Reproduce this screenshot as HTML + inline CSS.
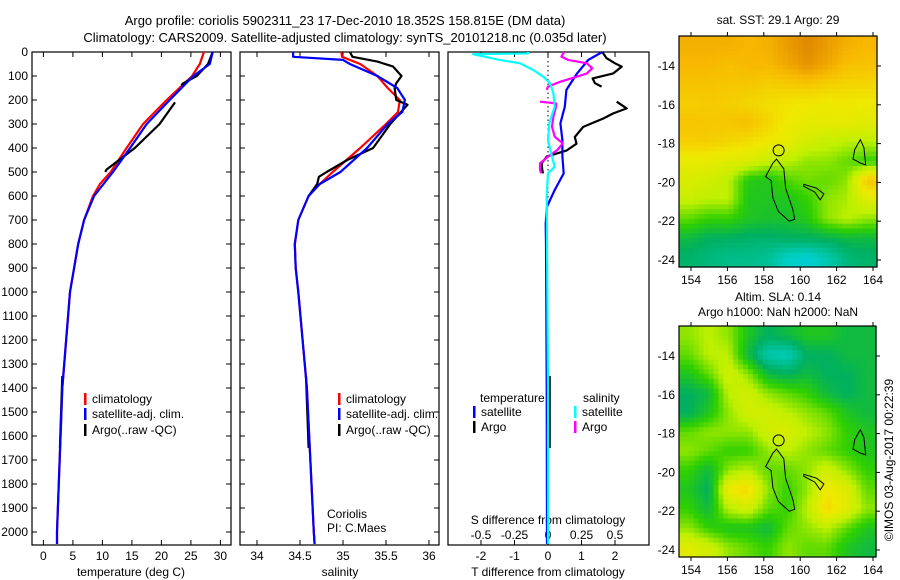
<!DOCTYPE html>
<html><head><meta charset="utf-8">
<style>
html,body{margin:0;padding:0;background:#fff;}
svg{display:block;font-family:"Liberation Sans",sans-serif;}
text{fill:#000;}
</style></head>
<body>
<svg id="fig" width="900" height="580" viewBox="0 0 900 580" xmlns="http://www.w3.org/2000/svg">
<text x="345" y="25" font-size="13" text-anchor="middle">Argo profile: coriolis 5902311_23 17-Dec-2010 18.352S 158.815E (DM data)</text>
<text x="345" y="42" font-size="13" text-anchor="middle">Climatology: CARS2009. Satellite-adjusted climatology: synTS_20101218.nc (0.035d later)</text>
<g id="p1"></g>
<g id="p2"></g>
<g id="p3"></g>
<g id="m1"></g>
<g id="m2"></g>
<text x="778" y="24" font-size="12" text-anchor="middle">sat. SST: 29.1 Argo: 29</text>
<text x="778" y="301" font-size="12" text-anchor="middle">Altim. SLA: 0.14</text>
<text x="778" y="316" font-size="12" text-anchor="middle">Argo h1000: NaN h2000: NaN</text>
<text x="0" y="0" font-size="12" transform="translate(893,460) rotate(-90)" text-anchor="middle">©IMOS 03-Aug-2017 00:22:39</text>
</svg>
<script>
// ---- data ----
const depthTicks=[0,100,200,300,400,500,600,700,800,900,1000,1100,1200,1300,1400,1500,1600,1700,1800,1900,2000];
const tempTicks=[0,5,10,15,20,25,30];
const salTicks=[34,34.5,35,35.5,36];
const tdiffTicks=[-2,-1,0,1,2];
const sdiffTicks=[-0.5,-0.25,0,0.25,0.5];
const sdiffLabels=["-0.5","-0.25","0","0.25","0.5"];
const clDepth=[0,50,100,200,300,400,500,550,600,700,800,900,1000,1400,2000,2050];
const tempClim=[27.2,26.5,25.2,20.9,16.9,14.1,11.4,9.6,8.4,6.9,5.9,5.2,4.5,3.2,2.3,2.3];
const saDepth=[0,50,100,200,300,400,500,600,700,800,900,1000,1400,2000,2050];
const tempSat=[28.7,28.2,25.4,21.4,17.5,14.7,11.8,8.6,6.9,5.9,5.2,4.5,3.2,2.3,2.3];
const arDepth=[0,50,100,132,140,null,210,300,400,490,500,null,1350,1650];
const tempArgo=[28.7,27.9,26.0,23.6,23.4,null,22.3,19.7,15.5,10.7,10.5,null,3.2,2.8];
const salDepthC=[0,20,50,100,150,200,250,300,400,500,550,600,700,800,900,1000,1400,2000,2050];
const salClim=[34.98,34.99,35.2,35.4,35.52,35.66,35.64,35.5,35.2,34.88,34.73,34.6,34.48,34.44,34.45,34.48,34.58,34.66,34.67];
const salDepthS=[0,20,33,50,100,150,200,250,300,400,500,550,600,700,800,900,1000,1400,2000,2050];
const salSat=[34.42,34.42,35.0,35.08,35.4,35.63,35.72,35.69,35.52,35.28,34.97,34.73,34.6,34.48,34.44,34.45,34.48,34.58,34.66,34.67];
const salDepthA=[0,20,40,60,100,130,150,200,220,300,400,450,500,520,550,600,null,1350,1650];
const salArgo=[35.08,35.11,35.4,35.58,35.68,35.62,35.6,35.62,35.75,35.55,35.35,35.05,34.81,34.72,34.7,34.6,null,34.57,34.6];
const dTd=[0,33,89,158,228,297,367,436,506,575,644,714,800,1400,2050];
const dTsat=[1.62,1.2,0.87,0.55,0.5,0.37,0.43,0.43,0.47,0.2,-0.03,-0.07,-0.06,-0.04,-0.03];
const dTAd=[0,26,47,61,89,110,130,144,null,207,235,256,277,312,354,382,410,436,464,492,506,null,1350,1650];
const dTargo=[1.62,1.75,2.0,2.2,1.95,1.33,1.4,1.6,null,2.05,2.35,1.95,1.65,1.05,0.8,0.85,0.56,-0.04,-0.19,-0.17,-0.15,null,0.05,0.05];
const dSd=[0,6,9,33,47,75,103,130,172,228,297,367,436,478,506,600,1400,2050];
const dSsat=[-0.15,-0.15,-0.56,-0.36,-0.21,-0.11,-0.035,0.015,0.04,0.05,0.01,0.0,0.03,0.05,0.0,-0.01,0.0,0.0];
const dSAd=[0,19,33,47,68,89,103,124,144,158,null,207,214,228,270,311,353,381,408,436,464,492,506,null,1550,1650];
const dSargo=[0.12,0.1,0.15,0.29,0.33,0.29,0.215,0.09,0.0,-0.01,null,-0.06,0.06,0.06,0.04,0.03,0.05,0.11,0.07,0.0,-0.06,-0.06,-0.05,null,0.0,0.0];
const sstGrid=[
[0.9,0.9,0.9,0.88,0.9,0.95,1.0,0.95,0.9,0.88],
[0.88,0.88,0.86,0.88,0.88,0.92,0.97,0.92,0.86,0.85],
[0.85,0.85,0.84,0.84,0.82,0.83,0.84,0.82,0.8,0.8],
[0.82,0.83,0.82,0.8,0.78,0.76,0.75,0.74,0.75,0.74],
[0.85,0.84,0.84,0.86,0.8,0.74,0.72,0.72,0.72,0.7],
[0.82,0.82,0.8,0.78,0.75,0.72,0.65,0.62,0.6,0.6],
[0.72,0.72,0.7,0.68,0.62,0.6,0.55,0.55,0.5,0.45],
[0.68,0.65,0.6,0.42,0.4,0.48,0.52,0.5,0.55,0.85],
[0.62,0.6,0.6,0.4,0.4,0.4,0.45,0.55,0.58,0.7],
[0.5,0.45,0.45,0.4,0.38,0.38,0.42,0.55,0.6,0.55],
[0.35,0.3,0.3,0.28,0.28,0.3,0.3,0.32,0.35,0.35],
[0.28,0.25,0.22,0.22,0.2,0.1,0.08,0.15,0.25,0.28]];
const slaGrid=[
[0.55,0.6,0.55,0.4,0.3,0.35,0.4,0.4,0.35,0.35],
[0.5,0.6,0.6,0.35,0.15,0.12,0.3,0.3,0.35,0.35],
[0.4,0.5,0.65,0.55,0.35,0.3,0.35,0.3,0.3,0.35],
[0.3,0.35,0.6,0.65,0.55,0.5,0.45,0.35,0.3,0.35],
[0.3,0.4,0.55,0.65,0.65,0.6,0.55,0.5,0.4,0.35],
[0.5,0.55,0.55,0.55,0.65,0.68,0.6,0.55,0.45,0.4],
[0.55,0.5,0.45,0.45,0.55,0.6,0.55,0.5,0.45,0.4],
[0.45,0.35,0.55,0.6,0.5,0.5,0.55,0.65,0.55,0.45],
[0.4,0.3,0.75,0.8,0.55,0.45,0.55,0.75,0.7,0.5],
[0.45,0.35,0.6,0.65,0.5,0.45,0.6,0.8,0.7,0.55],
[0.55,0.45,0.4,0.4,0.35,0.5,0.55,0.6,0.5,0.4],
[0.7,0.65,0.55,0.5,0.45,0.55,0.5,0.5,0.4,0.35]];
const lonTicks=[154,156,158,160,162,164];
const latTicks=[-14,-16,-18,-20,-22,-24];
const island1=[[158.7,-18.8],[159.1,-19.3],[159.2,-20.3],[159.6,-21.4],[159.7,-21.9],[159.4,-22.0],[158.8,-21.5],[158.5,-20.8],[158.4,-19.9],[158.1,-19.7],[158.5,-19.0]];
const island2=[[160.2,-20.1],[160.9,-20.3],[161.3,-20.6],[161.1,-20.9],[160.8,-20.5],[160.2,-20.2]];
const island3=[[163.0,-18.3],[163.3,-17.8],[163.5,-18.2],[163.6,-19.1],[163.3,-19.0],[162.9,-18.8]];
const argoPos=[158.815,-18.352];

// ---- drawing ----
const NS="http://www.w3.org/2000/svg";
function mk(parent,tag,attrs){const e=document.createElementNS(NS,tag);for(const k in attrs)e.setAttribute(k,attrs[k]);parent.appendChild(e);return e;}
const TOP=52,BOT=545;
const yD=d=>TOP+d*0.24;
function frame(g,x0,x1,name){const r=mk(g,'rect',{x:x0,y:TOP,width:x1-x0,height:BOT-TOP,fill:'none',stroke:'#000','stroke-width':1.2});}
function line(g,xs,ds,xf,color,name,w){
  let d='',pen=false;
  for(let i=0;i<xs.length;i++){if(xs[i]===null||ds[i]===null){pen=false;continue;}
    d+=(pen?'L':'M')+xf(xs[i]).toFixed(1)+','+yD(ds[i]).toFixed(1);pen=true;}
  const p=mk(g,'path',{d:d,fill:'none',stroke:color,'stroke-width':w||2.2,'stroke-linejoin':'round'});
  }
function txt(g,x,y,s,anchor,name,size){const t=mk(g,'text',{x:x,y:y,'font-size':size||12,'text-anchor':anchor||'start'});t.textContent=s;return t;}
function yticks(g,x0,x1,labels){depthTicks.forEach(d=>{const y=yD(d);mk(g,'line',{x1:x0,y1:y,x2:x0+5,y2:y,stroke:'#000'});mk(g,'line',{x1:x1,y1:y,x2:x1-5,y2:y,stroke:'#000'});
  if(labels)txt(g,28,y+4,String(d),'end','depth-tick-label');});}
function xticks(g,vals,labs,xf,y){vals.forEach((v,i)=>{const x=xf(v);mk(g,'line',{x1:x,y1:TOP,x2:x,y2:TOP+5,stroke:'#000'});mk(g,'line',{x1:x,y1:BOT,x2:x,y2:BOT-5,stroke:'#000'});
  txt(g,x,y,labs[i],'middle','x-tick-label');});}
function legend(g,x,y,color,label,name){mk(g,'rect',{x:x,y:y-10,width:2.5,height:12,fill:color});txt(g,x+8,y,label,'start',name);}

// panel 1
const g1=document.getElementById('p1');
const xT=t=>43.4+t*5.9;
frame(g1,32,231,'temperature-frame');yticks(g1,32,231,true);
xticks(g1,tempTicks,tempTicks.map(String),xT,560);
txt(g1,131,576,'temperature (deg C)','middle','temperature-axis-title');
line(g1,tempClim,clDepth,xT,'#f00','temp-climatology-line');
line(g1,tempArgo,arDepth,xT,'#000','temp-argo-line');
line(g1,tempSat,saDepth,xT,'#00f','temp-satellite-line');
legend(g1,84,403,'#f00','climatology','legend-climatology');
legend(g1,84,418,'#00f','satellite-adj. clim.','legend-satellite');
legend(g1,84,434,'#000','Argo(..raw -QC)','legend-argo');

// panel 2
const g2=document.getElementById('p2');
const xS=s=>257+(s-34)*86;
frame(g2,240,439,'salinity-frame');yticks(g2,240,439,false);
xticks(g2,salTicks,["34","34.5","35","35.5","36"],xS,560);
txt(g2,340,576,'salinity','middle','salinity-axis-title');
line(g2,salClim,salDepthC,xS,'#f00','sal-climatology-line');
line(g2,salArgo,salDepthA,xS,'#000','sal-argo-line');
line(g2,salSat,salDepthS,xS,'#00f','sal-satellite-line');
legend(g2,338,403,'#f00','climatology','legend-climatology');
legend(g2,338,418,'#00f','satellite-adj. clim.','legend-satellite');
legend(g2,338,434,'#000','Argo(..raw -QC)','legend-argo');
txt(g2,327,518,'Coriolis','start','pi-institution');
txt(g2,327,532,'PI: C.Maes','start','pi-name');

// panel 3
const g3=document.getElementById('p3');
const xDT=t=>548+t*33.5, xDS=s=>548+s*134;
frame(g3,448,649,'difference-frame');
mk(g3,'line',{x1:548,y1:TOP,x2:548,y2:yD(620),stroke:'#000','stroke-dasharray':'1.5,3'});
xticks(g3,tdiffTicks,tdiffTicks.map(String),xDT,560);
sdiffTicks.forEach((v,i)=>txt(g3,xDS(v),539,sdiffLabels[i],'middle','s-tick-label'));
txt(g3,548,524,'S difference from climatology','middle','s-diff-axis-title');
txt(g3,548,576,'T difference from climatology','middle','t-diff-axis-title');
line(g3,dTargo,dTAd,xDT,'#000','tdiff-argo-line');
line(g3,dTsat,dTd,xDT,'#00f','tdiff-satellite-line');
line(g3,dSargo,dSAd,xDS,'#f0f','sdiff-argo-line');
line(g3,dSsat,dSd,xDS,'#0ff','sdiff-satellite-line');
txt(g3,480,402,'temperature','start','legend-temperature-header');
txt(g3,583,402,'salinity','start','legend-salinity-header');
legend(g3,473,416,'#00f','satellite','legend-t-satellite');
legend(g3,473,431,'#000','Argo','legend-t-argo');
legend(g3,574,416,'#0ff','satellite','legend-s-satellite');
legend(g3,574,431,'#f0f','Argo','legend-s-argo');

// maps
const stops=[[0,[0,192,240]],[0.1,[0,208,200]],[0.3,[0,176,96]],[0.45,[48,208,0]],[0.6,[192,240,0]],[0.75,[240,232,0]],[0.88,[248,184,0]],[1,[224,136,0]]];
function cmap(v){for(let i=1;i<stops.length;i++){if(v<=stops[i][0]){const a=stops[i-1],b=stops[i],f=(v-a[0])/(b[0]-a[0]);return 'rgb('+a[1].map((c,k)=>Math.round(c+(b[1][k]-c)*f)).join(',')+')';}}return 'rgb(224,136,0)';}
function drawMap(g,grid,L,R,T,B,lat14y,lat24y,name){
  const lonX=lo=>691+(lo-154)*(873-691)/10;
  const latY=la=>lat14y+(-14-la)*(lat24y-lat14y)/10;
  const rows=grid.length,cols=grid[0].length,SR=4;
  const NR=rows*SR,NC=cols*SR,cw=(R-L)/NC,ch=(B-T)/NR;
  for(let r=0;r<NR;r++)for(let c=0;c<NC;c++){
    const fr=Math.min(Math.max((r+0.5)/SR-0.5,0),rows-1),fc=Math.min(Math.max((c+0.5)/SR-0.5,0),cols-1);
    const r0=Math.floor(fr),c0=Math.floor(fc),r1=Math.min(r0+1,rows-1),c1=Math.min(c0+1,cols-1),a=fr-r0,b=fc-c0;
    const v=grid[r0][c0]*(1-a)*(1-b)+grid[r0][c1]*(1-a)*b+grid[r1][c0]*a*(1-b)+grid[r1][c1]*a*b;
    mk(g,'rect',{x:(L+c*cw).toFixed(2),y:(T+r*ch).toFixed(2),width:(cw+0.6).toFixed(2),height:(ch+0.6).toFixed(2),fill:cmap(v)});}
  [island1,island2,island3].forEach((isl,i)=>{const p=mk(g,'polygon',{points:isl.map(q=>lonX(q[0]).toFixed(1)+','+latY(q[1]).toFixed(1)).join(' '),fill:'none',stroke:'#000','stroke-width':1});
    });
  const c=mk(g,'circle',{cx:lonX(argoPos[0]),cy:latY(argoPos[1]),r:5.5,fill:'none',stroke:'#000','stroke-width':1});
  
  const f=mk(g,'rect',{x:L,y:T,width:R-L,height:B-T,fill:'none',stroke:'#000','stroke-width':1.2});
  
  lonTicks.forEach(lo=>{const x=lonX(lo);mk(g,'line',{x1:x,y1:T,x2:x,y2:T-4,stroke:'#000'});mk(g,'line',{x1:x,y1:B,x2:x,y2:B+4,stroke:'#000'});txt(g,x,B+17,String(lo),'middle','lon-tick-label');});
  latTicks.forEach(la=>{const y=latY(la);mk(g,'line',{x1:R,y1:y,x2:R+4,y2:y,stroke:'#000'});txt(g,L-4,y+4,String(la),'end','lat-tick-label');});
}
drawMap(document.getElementById('m1'),sstGrid,679,877,36,267,66,260,'sst-map');
drawMap(document.getElementById('m2'),slaGrid,679,876,326,557,356,550,'sla-map');
</script>
</body></html>
